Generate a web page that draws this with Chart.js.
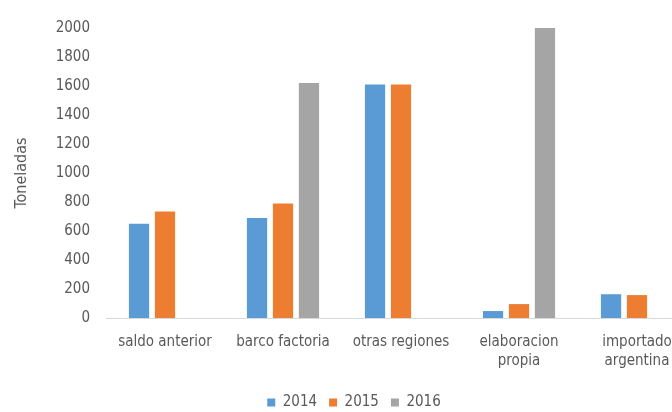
<!DOCTYPE html>
<html>
<head>
<meta charset="utf-8">
<script src="https://cdn.jsdelivr.net/npm/chart.js@4/dist/chart.umd.min.js"></script>
<style>
  html, body { margin: 0; padding: 0; background: #ffffff; overflow: hidden; }
  #wrap { width: 710px; height: 412px; }
</style>
</head>
<body>
<div id="wrap"><canvas id="c" width="710" height="412"></canvas></div>
<script>
// Categories (origen) and tonnes per year
const categories = ['saldo anterior', 'barco factoria', 'otras regiones', ['elaboracion', 'propia'], ['importado', 'argentina']];
const years = ['2014', '2015', '2016'];
const values2014 = [650, 690, 1610, 48, 164];
const values2015 = [735, 790, 1610, 96, 158];
const values2016 = [null, 1620, null, 2000, null];
const yTicks = [0, 200, 400, 600, 800, 1000, 1200, 1400, 1600, 1800, 2000];

const colors = ['#5B9BD5', '#ED7D31', '#A5A5A5'];
const font = "'DejaVu Sans Condensed', 'DejaVu Sans', sans-serif";
const textColor = '#595959';

new Chart(document.getElementById('c'), {
  type: 'bar',
  data: {
    labels: categories,
    datasets: [values2014, values2015, values2016].map((d, i) => ({
      label: years[i],
      data: d,
      backgroundColor: colors[i],
      borderWidth: 0,
      categoryPercentage: 0.66,
      barPercentage: 0.78
    }))
  },
  options: {
    responsive: false,
    animation: false,
    layout: { padding: { left: 12, right: 14, top: 28, bottom: -8 } },
    scales: {
      x: {
        afterFit: (s) => { s.height = 65; },
        grid: { display: false },
        border: { display: true, color: '#d9d9d9', width: 1 },
        ticks: { color: textColor, font: { family: font, size: 15, lineHeight: 1.3 }, maxRotation: 0, autoSkip: false, padding: 6 }
      },
      y: {
        min: 0, max: 2000,
        afterBuildTicks: (s) => { s.ticks = yTicks.map(v => ({ value: v })); },
        afterFit: (s) => { s.width = 94; },
        grid: { display: false },
        border: { display: false },
        ticks: { color: textColor, font: { family: font, size: 15 }, padding: 8, callback: (v) => String(v) },
        title: { display: true, text: 'Toneladas', color: textColor, font: { family: font, size: 16 }, padding: 0 }
      }
    },
    plugins: {
      legend: {
        position: 'bottom',
        labels: { color: textColor, font: { family: font, size: 15 }, boxWidth: 8, boxHeight: 8, padding: 12 }
      },
      tooltip: { enabled: false }
    }
  }
});
</script>
</body>
</html>
